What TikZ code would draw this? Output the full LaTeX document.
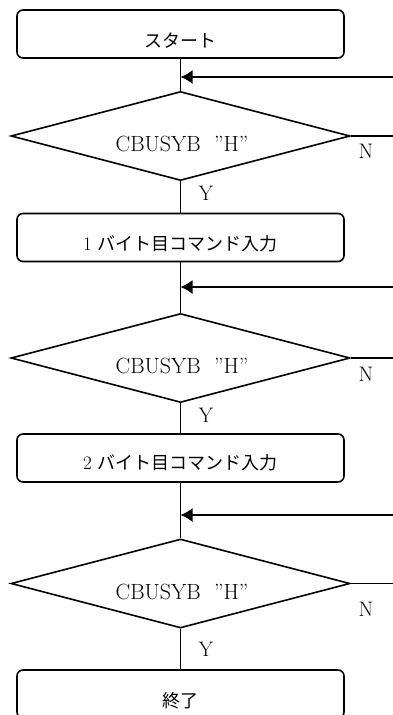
\documentclass[tikz,border=0pt]{standalone}
\usepackage{fontspec}
\newfontfamily\jpfont{Noto Sans CJK JP}
\usetikzlibrary{shapes.geometric,arrows.meta}
\tikzset{
	procbox/.style={draw,rounded corners=6pt,minimum width=327pt,minimum height=48pt,inner sep=0pt},
	testbox/.style={draw,diamond,minimum width=339pt,minimum height=89pt,inner sep=0pt},
	jptext/.style={font=\jpfont\fontsize{18}{20}\selectfont,inner sep=0pt},
	entext/.style={font=\fontsize{21}{25}\selectfont,inner sep=0pt},
	cndtext/.style={font=\fontsize{22}{26}\selectfont,inner sep=0pt},
	backarrow/.style={-{Latex[length=12pt,width=14pt]}}
}
\newcommand{\digitjp}[1]{{\fontspec{Latin Modern Roman}\fontsize{19}{20}\selectfont #1}\hspace{6pt}}
\begin{document}
\begin{tikzpicture}[line width=1.6pt,x=1pt,y=-1pt]
	\useasboundingbox (0,0) rectangle (393,715);
	% process boxes
	\node[procbox] (start) at (180.5,34) {};
	\node[procbox] (cmd1) at (180.5,237.5) {};
	\node[procbox] (cmd2) at (180.5,458) {};
	\node[procbox] (stop) at (180.5,694) {};
	\node[jptext] (tstart) at (180.5,41) {スタート};
	\node[jptext] (tcmd1) at (180.5,244) {\digitjp{1}バイト目コマンド入力};
	\node[jptext] (tcmd2) at (180.5,463) {\digitjp{2}バイト目コマンド入力};
	\node[jptext] (tstop) at (180.5,701) {終了};
	% decisions
	\node[testbox] (chk1) at (180.5,136) {};
	\node[testbox] (chk2) at (180.5,358) {};
	\node[testbox] (chk3) at (180.5,583.5) {};
	\node[cndtext] (tchk1) at (182,144) {CBUSYB\ \ ”H”};
	\node[cndtext] (tchk2) at (182,366) {CBUSYB\ \ ”H”};
	\node[cndtext] (tchk3) at (182,591.5) {CBUSYB\ \ ”H”};
	% flow down
	\draw (start.south)--(chk1.north);
	\draw (chk1.south)--(cmd1.north);
	\draw (cmd1.south)--(chk2.north);
	\draw (chk2.south)--(cmd2.north);
	\draw (cmd2.south)--(chk3.north);
	\draw (chk3.south)--(stop.north);
	% loop back ends
	\coordinate (in1) at (393,77);
	\coordinate (in2) at (393,287);
	\coordinate (in3) at (393,515);
	\coordinate (out1) at (393,136);
	\coordinate (out2) at (393,358);
	\coordinate (out3) at (393,583.5);
	\draw[backarrow] (in1)--(start.south|-in1);
	\draw[backarrow] (in2)--(cmd1.south|-in2);
	\draw[backarrow] (in3)--(cmd2.south|-in3);
	\draw (chk1.east)--(out1);
	\draw (chk2.east)--(out2);
	\draw (chk3.east)--(out3);
	% labels
	\node[entext] (n1) at (366,151) {N};
	\node[entext] (n2) at (366,374.5) {N};
	\node[entext] (n3) at (366,609) {N};
	\node[entext] (y1) at (206,193.5) {Y};
	\node[entext] (y2) at (206,415) {Y};
	\node[entext] (y3) at (206,649.5) {Y};
\end{tikzpicture}
\end{document}
